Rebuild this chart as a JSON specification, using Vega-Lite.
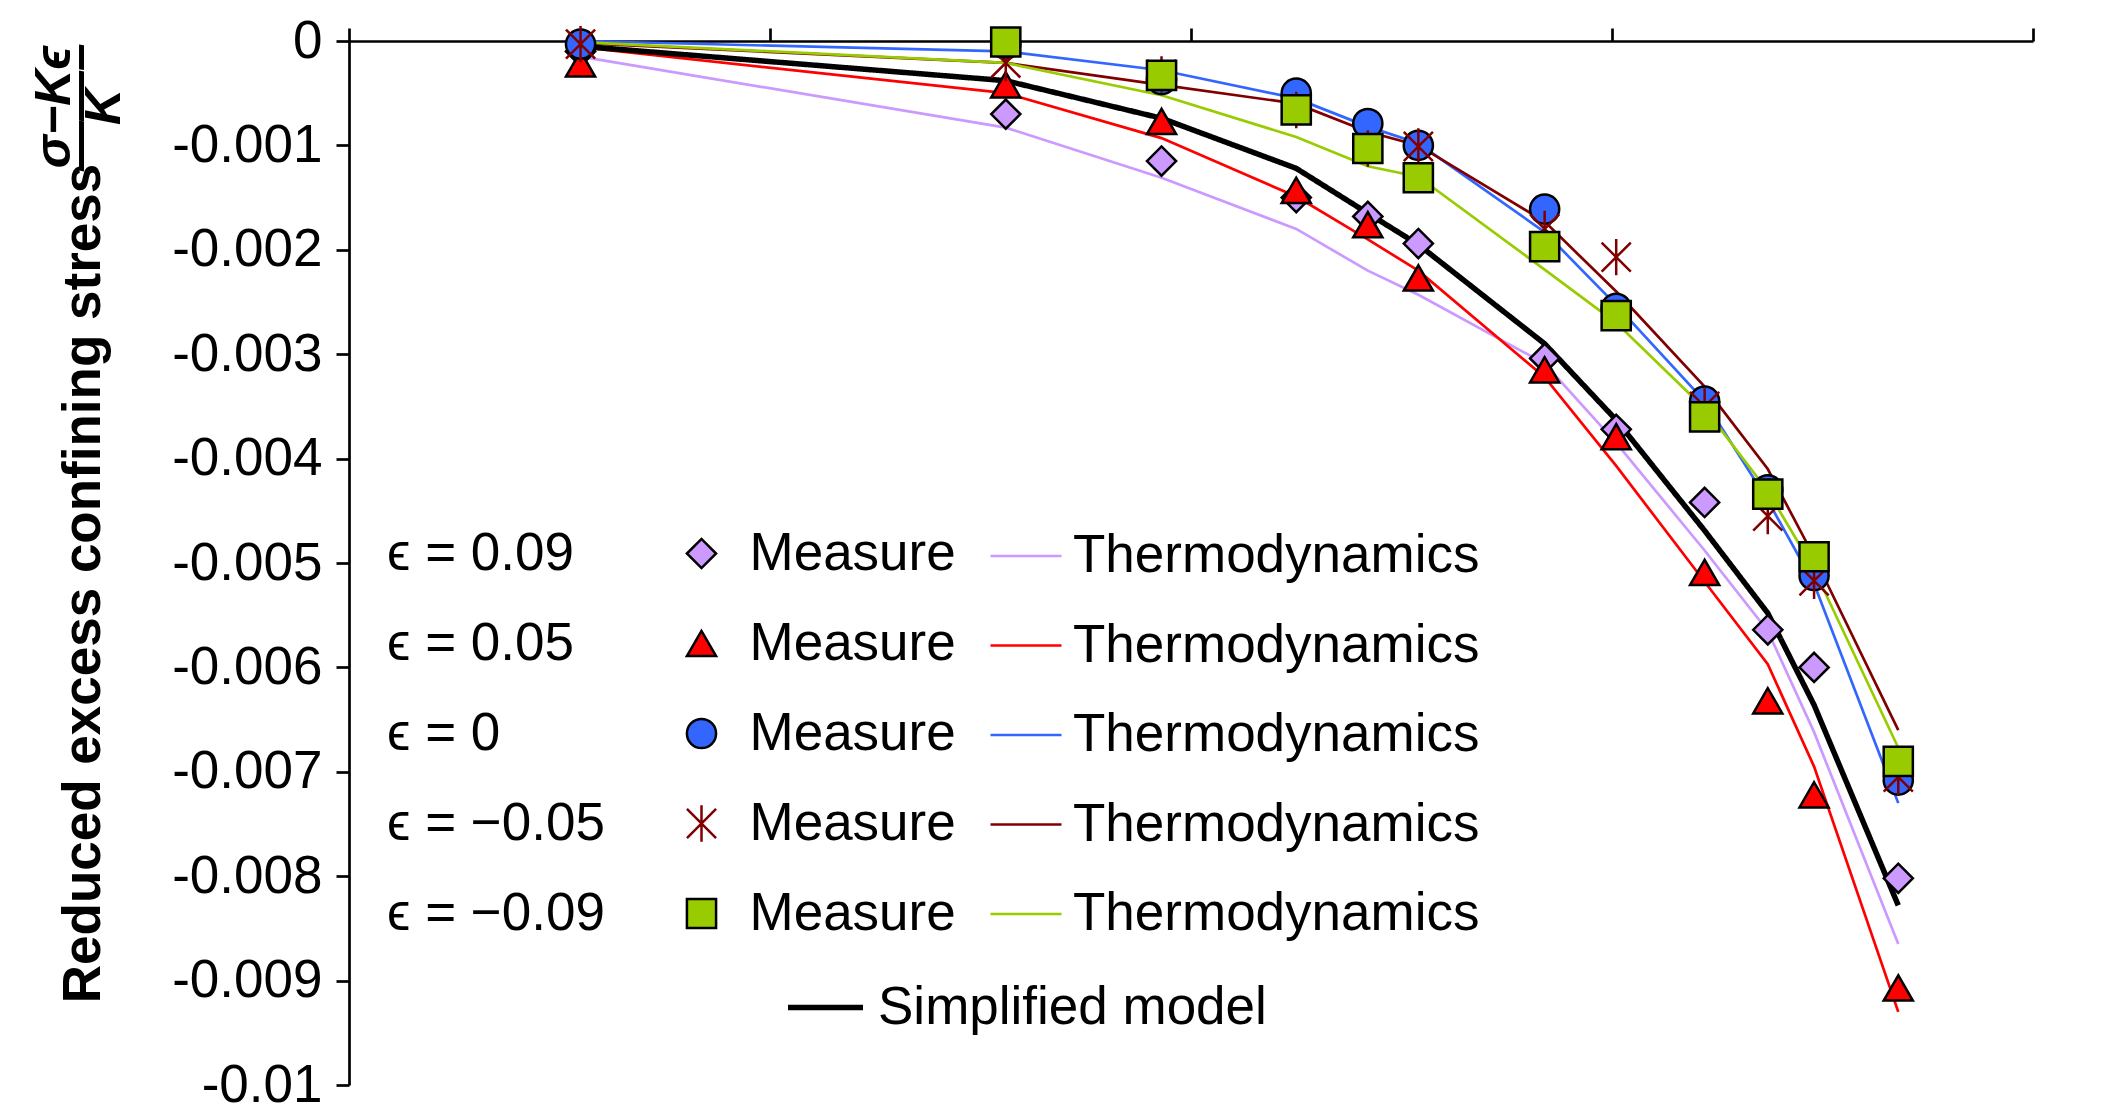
{
  "$schema": "https://vega.github.io/schema/vega-lite/v6.json",
  "width": 1684,
  "height": 1044,
  "autosize": {"type": "none"},
  "padding": {"left": 349, "top": 41, "right": 90, "bottom": 20},
  "background": "white",
  "config": {
    "view": {"stroke": null},
    "font": "Liberation Sans",
    "axis": {
      "domainColor": "black", "domainWidth": 2.7, "tickColor": "black", "tickWidth": 2.7, "tickSize": 13,
      "labelColor": "black", "labelFontSize": 53, "labelFont": "Liberation Sans", "grid": false,
      "titleColor": "black"
    },
    "legend": {
      "labelFontSize": 53, "labelColor": "black", "labelFont": "Liberation Sans", "labelLimit": 2000,
      "padding": 0, "offset": 0, "orient": "none"
    }
  },
  "title": {
    "text": ["σ−Kϵ", "——–", "K"],
    "orient": "left",
    "anchor": "end",
    "frame": "group",
    "align": "center",
    "fontSize": 50,
    "fontStyle": "italic",
    "fontWeight": "bold",
    "font": "Liberation Sans",
    "lineHeight": 25,
    "offset": -72,
    "dx": -66,
    "color": "black"
  },
  "resolve": {"scale": {"stroke": "independent", "fill": "independent", "shape": "independent"}},
  "datasets": {
    "thermo": [
      {"t": "t1", "e": "ϵ = 0.09", "x": 0.55, "y": -0.00015},
      {"t": "t1", "e": "ϵ = 0.09", "x": 1.56, "y": -0.00083},
      {"t": "t1", "e": "ϵ = 0.09", "x": 1.93, "y": -0.00131},
      {"t": "t1", "e": "ϵ = 0.09", "x": 2.25, "y": -0.0018},
      {"t": "t1", "e": "ϵ = 0.09", "x": 2.42, "y": -0.0022},
      {"t": "t1", "e": "ϵ = 0.09", "x": 2.54, "y": -0.00243},
      {"t": "t1", "e": "ϵ = 0.09", "x": 2.84, "y": -0.00309},
      {"t": "t1", "e": "ϵ = 0.09", "x": 3.01, "y": -0.00385},
      {"t": "t1", "e": "ϵ = 0.09", "x": 3.22, "y": -0.00488},
      {"t": "t1", "e": "ϵ = 0.09", "x": 3.37, "y": -0.00565},
      {"t": "t1", "e": "ϵ = 0.09", "x": 3.48, "y": -0.00662},
      {"t": "t1", "e": "ϵ = 0.09", "x": 3.68, "y": -0.00865},
      {"t": "t2", "e": "ϵ = 0.05", "x": 0.55, "y": -0.00006},
      {"t": "t2", "e": "ϵ = 0.05", "x": 1.56, "y": -0.0005},
      {"t": "t2", "e": "ϵ = 0.05", "x": 1.93, "y": -0.00093},
      {"t": "t2", "e": "ϵ = 0.05", "x": 2.25, "y": -0.00149},
      {"t": "t2", "e": "ϵ = 0.05", "x": 2.42, "y": -0.0019},
      {"t": "t2", "e": "ϵ = 0.05", "x": 2.54, "y": -0.0022},
      {"t": "t2", "e": "ϵ = 0.05", "x": 2.84, "y": -0.00322},
      {"t": "t2", "e": "ϵ = 0.05", "x": 3.01, "y": -0.00407},
      {"t": "t2", "e": "ϵ = 0.05", "x": 3.22, "y": -0.00518},
      {"t": "t2", "e": "ϵ = 0.05", "x": 3.37, "y": -0.00597},
      {"t": "t2", "e": "ϵ = 0.05", "x": 3.48, "y": -0.00695},
      {"t": "t2", "e": "ϵ = 0.05", "x": 3.68, "y": -0.0093},
      {"t": "t3", "e": "ϵ = 0", "x": 0.55, "y": 0},
      {"t": "t3", "e": "ϵ = 0", "x": 1.56, "y": -0.0001},
      {"t": "t3", "e": "ϵ = 0", "x": 1.93, "y": -0.00028},
      {"t": "t3", "e": "ϵ = 0", "x": 2.25, "y": -0.00055},
      {"t": "t3", "e": "ϵ = 0", "x": 2.42, "y": -0.00082},
      {"t": "t3", "e": "ϵ = 0", "x": 2.54, "y": -0.00098},
      {"t": "t3", "e": "ϵ = 0", "x": 2.84, "y": -0.00183},
      {"t": "t3", "e": "ϵ = 0", "x": 3.01, "y": -0.00253},
      {"t": "t3", "e": "ϵ = 0", "x": 3.22, "y": -0.00345},
      {"t": "t3", "e": "ϵ = 0", "x": 3.37, "y": -0.0044},
      {"t": "t3", "e": "ϵ = 0", "x": 3.48, "y": -0.0052},
      {"t": "t3", "e": "ϵ = 0", "x": 3.68, "y": -0.0073},
      {"t": "t4", "e": "ϵ = −0.05", "x": 0.55, "y": -0.00002},
      {"t": "t4", "e": "ϵ = −0.05", "x": 1.56, "y": -0.00021},
      {"t": "t4", "e": "ϵ = −0.05", "x": 1.93, "y": -0.00042},
      {"t": "t4", "e": "ϵ = −0.05", "x": 2.25, "y": -0.0006},
      {"t": "t4", "e": "ϵ = −0.05", "x": 2.42, "y": -0.00087},
      {"t": "t4", "e": "ϵ = −0.05", "x": 2.54, "y": -0.001},
      {"t": "t4", "e": "ϵ = −0.05", "x": 2.84, "y": -0.00173},
      {"t": "t4", "e": "ϵ = −0.05", "x": 3.01, "y": -0.0024},
      {"t": "t4", "e": "ϵ = −0.05", "x": 3.22, "y": -0.00331},
      {"t": "t4", "e": "ϵ = −0.05", "x": 3.37, "y": -0.0041},
      {"t": "t4", "e": "ϵ = −0.05", "x": 3.48, "y": -0.00494},
      {"t": "t4", "e": "ϵ = −0.05", "x": 3.68, "y": -0.0066},
      {"t": "t5", "e": "ϵ = −0.09", "x": 0.55, "y": -0.00001},
      {"t": "t5", "e": "ϵ = −0.09", "x": 1.56, "y": -0.00021},
      {"t": "t5", "e": "ϵ = −0.09", "x": 1.93, "y": -0.00052},
      {"t": "t5", "e": "ϵ = −0.09", "x": 2.25, "y": -0.00092},
      {"t": "t5", "e": "ϵ = −0.09", "x": 2.42, "y": -0.0012},
      {"t": "t5", "e": "ϵ = −0.09", "x": 2.54, "y": -0.0013},
      {"t": "t5", "e": "ϵ = −0.09", "x": 2.84, "y": -0.00219},
      {"t": "t5", "e": "ϵ = −0.09", "x": 3.01, "y": -0.0027},
      {"t": "t5", "e": "ϵ = −0.09", "x": 3.22, "y": -0.00352},
      {"t": "t5", "e": "ϵ = −0.09", "x": 3.37, "y": -0.00431},
      {"t": "t5", "e": "ϵ = −0.09", "x": 3.48, "y": -0.00506},
      {"t": "t5", "e": "ϵ = −0.09", "x": 3.68, "y": -0.00677}
    ],
    "simp": [
      {"x": 0.55, "y": -0.00005},
      {"x": 1.56, "y": -0.00038},
      {"x": 1.93, "y": -0.00074},
      {"x": 2.25, "y": -0.00122},
      {"x": 2.42, "y": -0.00165},
      {"x": 2.54, "y": -0.00195},
      {"x": 2.84, "y": -0.0029},
      {"x": 3.01, "y": -0.00363},
      {"x": 3.22, "y": -0.00469},
      {"x": 3.37, "y": -0.00548},
      {"x": 3.48, "y": -0.00636},
      {"x": 3.68, "y": -0.00828}
    ],
    "meas": [
      {"m": "m1", "x": 0.55, "y": -0.0001},
      {"m": "m1", "x": 1.56, "y": -0.0007},
      {"m": "m1", "x": 1.93, "y": -0.00115},
      {"m": "m1", "x": 2.25, "y": -0.0015},
      {"m": "m1", "x": 2.42, "y": -0.00168},
      {"m": "m1", "x": 2.54, "y": -0.00194},
      {"m": "m1", "x": 2.84, "y": -0.00304},
      {"m": "m1", "x": 3.01, "y": -0.00372},
      {"m": "m1", "x": 3.22, "y": -0.00442},
      {"m": "m1", "x": 3.37, "y": -0.00564},
      {"m": "m1", "x": 3.48, "y": -0.006},
      {"m": "m1", "x": 3.68, "y": -0.00802},
      {"m": "m2", "x": 0.55, "y": -0.00022},
      {"m": "m2", "x": 1.56, "y": -0.00042},
      {"m": "m2", "x": 1.93, "y": -0.00077},
      {"m": "m2", "x": 2.25, "y": -0.00143},
      {"m": "m2", "x": 2.42, "y": -0.00176},
      {"m": "m2", "x": 2.54, "y": -0.00227},
      {"m": "m2", "x": 2.84, "y": -0.00315},
      {"m": "m2", "x": 3.01, "y": -0.00379},
      {"m": "m2", "x": 3.22, "y": -0.00509},
      {"m": "m2", "x": 3.37, "y": -0.00632},
      {"m": "m2", "x": 3.48, "y": -0.00722},
      {"m": "m2", "x": 3.68, "y": -0.00907},
      {"m": "m3", "x": 0.55, "y": -0.00003},
      {"m": "m3", "x": 1.56, "y": -0.00003},
      {"m": "m3", "x": 1.93, "y": -0.00037},
      {"m": "m3", "x": 2.25, "y": -0.0005},
      {"m": "m3", "x": 2.42, "y": -0.00079},
      {"m": "m3", "x": 2.54, "y": -0.001},
      {"m": "m3", "x": 2.84, "y": -0.00161},
      {"m": "m3", "x": 3.01, "y": -0.00256},
      {"m": "m3", "x": 3.22, "y": -0.00345},
      {"m": "m3", "x": 3.37, "y": -0.0043},
      {"m": "m3", "x": 3.48, "y": -0.00512},
      {"m": "m3", "x": 3.68, "y": -0.00708},
      {"m": "m4", "x": 0.55, "y": -0.00003},
      {"m": "m4", "x": 1.56, "y": -0.00021},
      {"m": "m4", "x": 1.93, "y": -0.00032},
      {"m": "m4", "x": 2.25, "y": -0.00066},
      {"m": "m4", "x": 2.42, "y": -0.00103},
      {"m": "m4", "x": 2.54, "y": -0.00101},
      {"m": "m4", "x": 2.84, "y": -0.0018},
      {"m": "m4", "x": 3.01, "y": -0.00207},
      {"m": "m4", "x": 3.22, "y": -0.0035},
      {"m": "m4", "x": 3.37, "y": -0.00455},
      {"m": "m4", "x": 3.48, "y": -0.00517},
      {"m": "m4", "x": 3.68, "y": -0.00705},
      {"m": "m5", "x": 1.56, "y": -0.00001},
      {"m": "m5", "x": 1.93, "y": -0.00033},
      {"m": "m5", "x": 2.25, "y": -0.00066},
      {"m": "m5", "x": 2.42, "y": -0.00103},
      {"m": "m5", "x": 2.54, "y": -0.00131},
      {"m": "m5", "x": 2.84, "y": -0.00197},
      {"m": "m5", "x": 3.01, "y": -0.00263},
      {"m": "m5", "x": 3.22, "y": -0.0036},
      {"m": "m5", "x": 3.37, "y": -0.00434},
      {"m": "m5", "x": 3.48, "y": -0.00494},
      {"m": "m5", "x": 3.68, "y": -0.0069}
    ]
  },
  "encoding": {
    "x": {
      "field": "x", "type": "quantitative",
      "scale": {"domain": [0, 4], "nice": false, "zero": false},
      "axis": {"orient": "top", "values": [0, 1, 2, 3, 4], "labels": false, "title": null}
    },
    "y": {
      "field": "y", "type": "quantitative",
      "scale": {"domain": [-0.01, 0], "nice": false},
      "axis": {
        "values": [0, -0.001, -0.002, -0.003, -0.004, -0.005, -0.006, -0.007, -0.008, -0.009, -0.01],
        "labelExpr": "datum.value == 0 ? '0' : '-' + format(-datum.value, '')",
        "labelPadding": 14,
        "title": "Reduced excess confining stress",
        "titleFontSize": 53,
        "titleFontWeight": "bold",
        "titleFont": "Liberation Sans",
        "titlePadding": 61,
        "titleY": 542
      }
    }
  },
  "layer": [
    {
      "data": {"name": "thermo"},
      "mark": {"type": "line", "strokeWidth": 2.7},
      "encoding": {
        "stroke": {
          "field": "t", "type": "nominal",
          "scale": {"domain": ["t1", "t2", "t3", "t4", "t5"], "range": ["#cc99ff", "#ff0000", "#3366ff", "#800000", "#99cc00"]},
          "legend": {
            "orient": "none", "legendX": 640, "legendY": 478, "title": null,
            "labelExpr": "'Thermodynamics'", "symbolType": "stroke", "symbolSize": 5041,
            "symbolStrokeWidth": 2.7, "labelOffset": 10, "rowPadding": 25.5
          }
        },
        "opacity": {
          "field": "e", "type": "nominal",
          "scale": {"domain": ["ϵ = 0.09", "ϵ = 0.05", "ϵ = 0", "ϵ = −0.05", "ϵ = −0.09"], "range": [1, 1]},
          "legend": {
            "orient": "none", "legendX": -15, "legendY": 486, "title": null,
            "symbolSize": 0, "symbolStrokeWidth": 0, "symbolStrokeColor": "transparent",
            "labelOffset": 0, "rowPadding": 36
          }
        }
      }
    },
    {
      "data": {"name": "simp"},
      "mark": {"type": "line", "color": "black", "strokeWidth": 5.5},
      "encoding": {
        "strokeDash": {
          "datum": "Simplified model", "type": "nominal",
          "scale": {"domain": ["Simplified model"], "range": [[1, 0]]},
          "legend": {
            "orient": "none", "legendX": 436, "legendY": 926, "title": null,
            "symbolType": "stroke", "symbolSize": 5625, "symbolStrokeWidth": 5.5,
            "symbolStrokeColor": "black", "labelOffset": 12
          }
        }
      }
    },
    {
      "data": {"name": "meas"},
      "mark": {"type": "point", "filled": true, "opacity": 1, "size": 850, "strokeWidth": 2.5},
      "encoding": {
        "fill": {
          "field": "m", "type": "nominal",
          "scale": {"domain": ["m1", "m2", "m3", "m4", "m5"], "range": ["#cc99ff", "#ff0000", "#3366ff", "#800000", "#99cc00"]},
          "legend": {
            "orient": "none", "legendX": 326, "legendY": 486, "title": null,
            "labelExpr": "'Measure'", "symbolSize": 850, "symbolStrokeWidth": 2.5,
            "labelOffset": 21.5, "rowPadding": 36
          }
        },
        "shape": {
          "field": "m", "type": "nominal",
          "scale": {"domain": ["m1", "m2", "m3", "m4", "m5"], "range": ["diamond", "triangle-up", "circle", "M-1,-1L1,1M-1,1L1,-1M0,-1.25L0,1.25", "square"]},
          "legend": {
            "orient": "none", "legendX": 326, "legendY": 486, "title": null,
            "labelExpr": "'Measure'", "symbolSize": 850, "symbolStrokeWidth": 2.5,
            "labelOffset": 21.5, "rowPadding": 36
          }
        },
        "stroke": {
          "field": "m", "type": "nominal",
          "scale": {"domain": ["m1", "m2", "m3", "m4", "m5"], "range": ["black", "black", "black", "#800000", "black"]},
          "legend": {
            "orient": "none", "legendX": 326, "legendY": 486, "title": null,
            "labelExpr": "'Measure'", "symbolSize": 850, "symbolStrokeWidth": 2.5,
            "labelOffset": 21.5, "rowPadding": 36
          }
        }
      }
    }
  ]
}
